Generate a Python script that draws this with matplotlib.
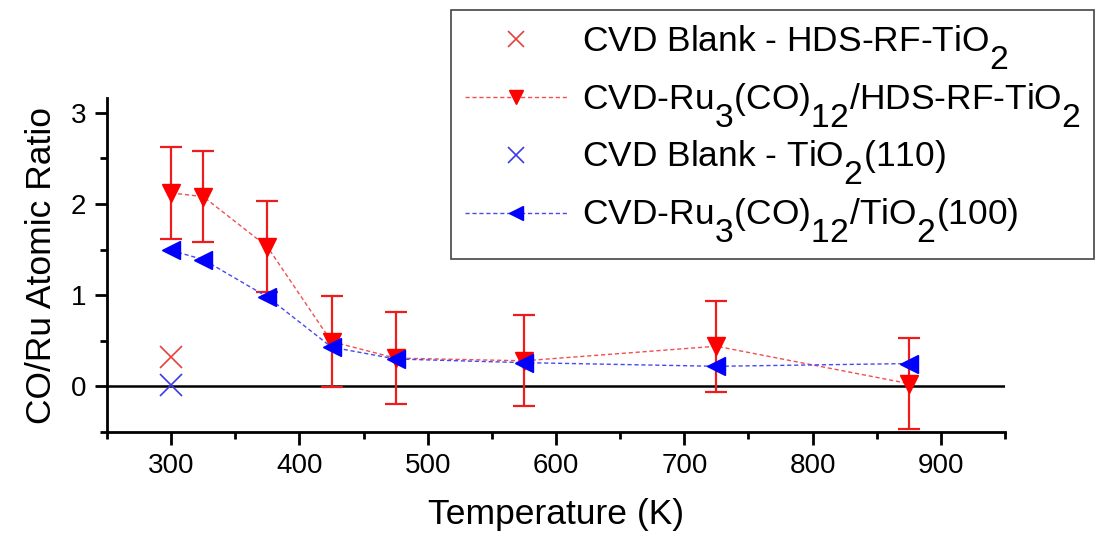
import matplotlib.pyplot as plt
import matplotlib._mathtext as mt
from matplotlib.ticker import MultipleLocator

plt.rcParams['font.family'] = ['Liberation Sans', 'DejaVu Sans']
plt.rcParams['mathtext.default'] = 'regular'
# subscripts nearly full size and dropped low, like the original
mt.SHRINK_FACTOR = 0.95
mt.FontConstantsBase.sub1 = 0.95

# data
t_hds = [300, 325, 375, 425, 475, 575, 725, 875]
r_hds = [2.12, 2.08, 1.53, 0.49, 0.31, 0.28, 0.44, 0.03]
e_hds = [0.5, 0.5, 0.5, 0.5, 0.5, 0.5, 0.5, 0.5]

t_110 = [300, 325, 375, 425, 475, 575, 725, 875]
r_110 = [1.49, 1.39, 0.98, 0.43, 0.30, 0.26, 0.22, 0.25]

t_blank = [300]
r_blank_hds = [0.32]
r_blank_110 = [0.01]

fig = plt.figure(figsize=(10.99, 5.42), dpi=100)
ax = fig.add_axes([0.0974, 0.203, 0.8171, 0.616])

ax.axhline(0, color='black', lw=1.8, zorder=1)

ax.plot(t_blank, r_blank_hds, ls='none', marker='x', ms=16, mew=1.2,
        color='#e8403a', label='CVD Blank - HDS-RF-TiO$_2$')
ax.errorbar(t_hds, r_hds, yerr=e_hds, fmt='none', ecolor='#ee1c1c',
            elinewidth=1.6, capsize=8, capthick=1.6, zorder=2)
ax.plot(t_hds, r_hds, ls=(0, (3, 2)), lw=1.0, color='#f05050',
        marker='v', ms=13, mfc='#ff0000', mec='#ff0000', zorder=3,
        label='CVD-Ru$_3$(CO)$_{12}$/HDS-RF-TiO$_2$')
ax.plot(t_blank, r_blank_110, ls='none', marker='x', ms=16, mew=1.2,
        color='#3a3ae8', label='CVD Blank - TiO$_2$(110)')
ax.plot(t_110, r_110, ls=(0, (3, 2)), lw=1.0, color='#4848f0',
        marker='<', ms=13, mfc='#0000ff', mec='#0000ff', zorder=4,
        label='CVD-Ru$_3$(CO)$_{12}$/TiO$_2$(100)')

ax.set_xlim(250, 950)
ax.set_ylim(-0.5, 3.16)
ax.xaxis.set_minor_locator(MultipleLocator(50))
ax.yaxis.set_minor_locator(MultipleLocator(0.5))
ax.set_xticks(range(300, 1000, 100))
ax.set_yticks([0, 1, 2, 3])

for s in ['top', 'right']:
    ax.spines[s].set_visible(False)
for s in ['left', 'bottom']:
    ax.spines[s].set_linewidth(2)
ax.tick_params(which='major', direction='out', length=9, width=2, labelsize=20, pad=6)
ax.tick_params(which='minor', direction='out', length=5, width=2)

ax.set_xlabel('Temperature (K)', fontsize=25.5, labelpad=14)
ax.set_ylabel('CO/Ru Atomic Ratio', fontsize=25.5, labelpad=9)

leg = ax.legend(loc='upper right', bbox_to_anchor=(0.9955, 0.9815),
                bbox_transform=fig.transFigure, fontsize=25.5, frameon=True,
                fancybox=False, edgecolor='#444444', framealpha=1,
                handlelength=2.9, handletextpad=0.4, labelspacing=0.28,
                borderpad=0.38, borderaxespad=0, markerscale=0.75)
leg.get_frame().set_linewidth(1.2)

fig.savefig('out.png', dpi=100)
